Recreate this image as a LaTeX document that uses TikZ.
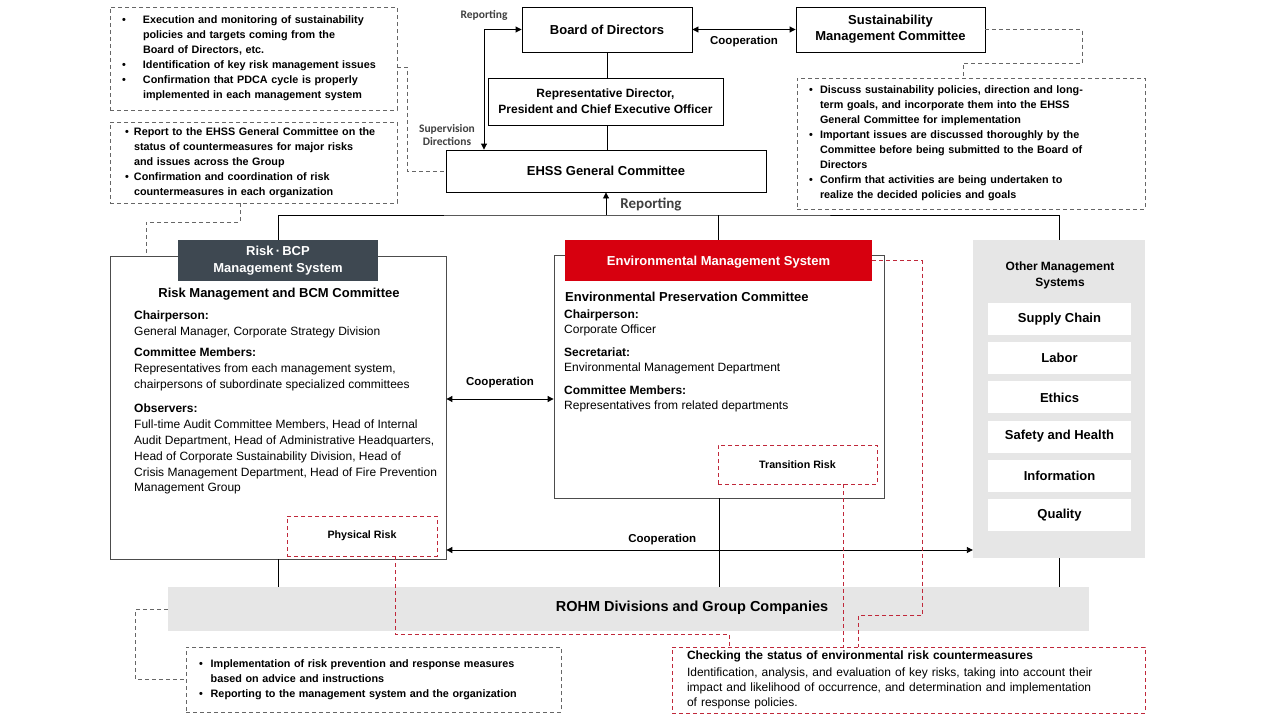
\documentclass[tikz,border=0pt]{standalone}
\usepackage{fontspec}
\setmainfont{Liberation Sans}
\newfontfamily\calfont{Carlito}
\usetikzlibrary{positioning,calc,arrows.meta}

\definecolor{rohmred}{HTML}{D7000F}
\definecolor{riskslate}{HTML}{3E4851}
\definecolor{panelgray}{HTML}{E6E6E6}
\definecolor{riskline}{HTML}{C0283A}
\definecolor{noteline}{HTML}{666666}
\definecolor{labelgray}{HTML}{404040}

\newcommand{\fsz}[2]{\fontsize{#1}{#2}\selectfont}
\newcommand{\bul}[1]{\makebox[#1][l]{\textbullet}}
\newcommand{\cont}[1]{\hspace*{#1}}

\begin{document}
\begin{tikzpicture}[x=1pt, y=-1pt,
    box/.style={draw, line width=0.9pt, fill=white, align=center, inner sep=2pt, font=\fsz{13}{16}\bfseries},
    frame/.style={draw=black!70, line width=0.8pt, fill=white, inner sep=0pt},
    head/.style={text=white, align=center, inner sep=2pt, font=\fsz{13}{17}\bfseries},
    sysbox/.style={fill=white, minimum width=143pt, minimum height=32pt, inner sep=0pt, font=\fsz{13}{16}\bfseries},
    note/.style={draw=noteline, line width=0.8pt, dash pattern=on 4pt off 3pt, align=left, inner ysep=0pt, font=\fsz{10.8}{15}\bfseries},
    redbox/.style={draw=riskline, line width=0.8pt, dash pattern=on 4pt off 3pt, inner sep=0pt},
    link/.style={line width=0.9pt},
    arr/.style={line width=0.9pt, -{Triangle[length=6pt,width=6pt]}},
    darr/.style={line width=0.9pt, {Triangle[length=6pt,width=6pt]}-{Triangle[length=6pt,width=6pt]}},
    gdash/.style={draw=noteline, line width=0.8pt, dash pattern=on 4pt off 3pt},
    rdash/.style={draw=riskline, line width=0.8pt, dash pattern=on 4pt off 3pt},
    lbl/.style={font=\fsz{11.5}{13}\bfseries, inner sep=1pt},
    callbl/.style={font=\calfont\fsz{11.5}{13}\bfseries, text=labelgray, align=center, inner sep=1pt}
]
\fill[white] (0,0) rectangle (1280,720);
\useasboundingbox (0,0) rectangle (1280,720);

% Top level
\node[box, minimum width=170pt, minimum height=45pt] (board) at (607,29.5) {Board of Directors};
\node[box, minimum width=189pt, minimum height=45pt] (smc) at (890.5,29.5) {Sustainability\\Management Committee};
\node[box, minimum width=235pt, minimum height=47pt, font=\fsz{12}{16}\bfseries] (ceo) at (605.5,101.5) {Representative Director,\\President and Chief Executive Officer};
\node[box, minimum width=320pt, minimum height=42pt] (ehss) at (606,171) {EHSS General Committee};

% Notes at the top
\node[note, minimum height=103pt, text width=263pt, inner xsep=12pt] (note1) at (253.5,58.5) {%
  \bul{21pt}Execution and monitoring of sustainability\\
  \cont{21pt}policies and targets coming from the\\
  \cont{21pt}Board of Directors, etc.\\
  \bul{21pt}Identification of key risk management issues\\
  \bul{21pt}Confirmation that PDCA cycle is properly\\
  \cont{21pt}implemented in each management system};
\node[note, minimum height=81pt, text width=257pt, inner xsep=15pt] (note2) at (253.5,162.5) {%
  \bul{9pt}Report to the EHSS General Committee on the\\
  \cont{9pt}status of countermeasures for major risks\\
  \cont{9pt}and issues across the Group\\
  \bul{9pt}Confirmation and coordination of risk\\
  \cont{9pt}countermeasures in each organization};
\node[note, minimum height=131pt, text width=324pt, inner xsep=12pt] (note3) at (971,143.5) {%
  \bul{11pt}Discuss sustainability policies, direction and long-\\
  \cont{11pt}term goals, and incorporate them into the EHSS\\
  \cont{11pt}General Committee for implementation\\
  \bul{11pt}Important issues are discussed thoroughly by the\\
  \cont{11pt}Committee before being submitted to the Board of\\
  \cont{11pt}Directors\\
  \bul{11pt}Confirm that activities are being undertaken to\\
  \cont{11pt}realize the decided policies and goals};

% Risk-BCP system
\node[frame, minimum width=336pt, minimum height=303pt] (riskbox) at (278,407.5) {};
\node[head, fill=riskslate, minimum width=200pt, minimum height=41pt] (riskhead) at (278,260.5) {Risk\,·\,BCP\\Management System};
\node[font=\fsz{13}{16}\bfseries, inner sep=0pt] (riskcom) at (279,294) {Risk Management and BCM Committee};
\node[anchor=north west, align=left, inner sep=0pt, font=\fsz{12}{15.9}] (riskbody) at (134,311) {%
  \textbf{Chairperson:}\\
  General Manager, Corporate Strategy Division\\[5pt]
  \textbf{Committee Members:}\\
  Representatives from each management system,\\
  chairpersons of subordinate specialized committees\\[8pt]
  \textbf{Observers:}\\
  Full-time Audit Committee Members, Head of Internal\\
  Audit Department, Head of Administrative Headquarters,\\
  Head of Corporate Sustainability Division, Head of\\
  Crisis Management Department, Head of Fire Prevention\\
  Management Group};
\node[redbox, minimum width=150pt, minimum height=40pt, font=\fsz{10.7}{13}\bfseries] (physrisk) at (362,536) {Physical Risk};

% Environmental system
\node[frame, minimum width=330pt, minimum height=243pt] (envbox) at (719,376.5) {};
\node[head, fill=rohmred, minimum width=307pt, minimum height=41pt, text depth=0pt] (envhead) at (718.5,260.5) {Environmental Management System};
\node[anchor=west, inner sep=0pt, font=\fsz{13}{16}\bfseries] (envcom) at (565,297) {Environmental Preservation Committee};
\node[anchor=north west, align=left, inner sep=0pt, font=\fsz{12}{15}] (envbody) at (564,310) {%
  \textbf{Chairperson:}\\
  Corporate Officer\\[8pt]
  \textbf{Secretariat:}\\
  Environmental Management Department\\[8pt]
  \textbf{Committee Members:}\\
  Representatives from related departments};
\node[redbox, minimum width=159pt, minimum height=39pt, font=\fsz{10.7}{13}\bfseries] (transrisk) at (797.5,464.5) {Transition Risk};

% Other systems
\node[fill=panelgray, minimum width=172pt, minimum height=318pt, inner sep=0pt] (other) at (1059,399) {};
\node[align=center, inner sep=0pt, font=\fsz{12}{16}\bfseries] (othertitle) at (1060,275) {Other Management\\Systems};
\node[sysbox] (supply) at (1059.5,319) {Supply Chain};
\node[sysbox, below=6.8pt of supply] (labor) {Labor};
\node[sysbox, below=6.8pt of labor] (ethics) {Ethics};
\node[sysbox, below=6.8pt of ethics] (safety) {Safety and Health};
\node[sysbox, below=6.8pt of safety] (info) {Information};
\node[sysbox, below=6.8pt of info] (quality) {Quality};

% Divisions and group companies
\node[fill=panelgray, minimum width=921pt, minimum height=44pt, inner sep=0pt] (rohm) at (628.5,609) {};
\node[font=\fsz{14.5}{16}\bfseries, inner sep=0pt] (rohmtext) at (692,608) {ROHM Divisions and Group Companies};
\node[note, minimum height=65pt, text width=349pt, inner xsep=13pt] (note4) at (373.5,679.5) {%
  \bul{11.7pt}Implementation of risk prevention and response measures\\
  \cont{11.7pt}based on advice and instructions\\
  \bul{11.7pt}Reporting to the management system and the organization};
\node[redbox, align=left, minimum height=66pt, text width=443pt, inner xsep=15pt, font=\fsz{12}{15}] (check) at (908.5,680) {%
  \textbf{Checking the status of environmental risk countermeasures}\\[1.5pt]
  Identification, analysis, and evaluation of key risks, taking into account their\\
  impact and likelihood of occurrence, and determination and implementation\\
  of response policies.};

% Top connections
\draw[darr] (board.east) -- (smc.west) node[lbl, midway, below=5pt] (coop1) {Cooperation};
\draw[link] (board.south) -- (board.south |- ceo.north);
\draw[link] (board.south |- ceo.south) -- (board.south |- ehss.north);
\coordinate (loop) at (484,29.5);
\draw[darr] (board.west) -- (loop) -- (loop |- ehss.north);
\node[callbl] (reptop) at (484,15) {Reporting};
\node[callbl] (superv) at (447,135) {Supervision\\Directions};

% Reporting from the systems
\coordinate (bus) at (606,215);
\draw[link] (riskhead.north) |- (bus) -| (other.north);
\draw[link] (envhead.north) -- (envhead.north |- bus);
\draw[arr] (bus) -- (ehss.south);
\node[callbl, font=\calfont\fsz{15}{16}\bfseries] (repbot) at (651,204) {Reporting};

% Cooperation between systems
\coordinate (coopmid) at (0,399);
\coordinate (cooplow) at (0,550);
\draw[darr] (riskbox.east |- coopmid) -- (envbox.west |- coopmid) node[lbl, midway, above=10pt] (coop2) {Cooperation};
\draw[darr] (riskbox.east |- cooplow) -- (other.west |- cooplow) node[lbl, pos=0.41, above=4pt] (coop3) {Cooperation};

% Down to divisions
\draw[link] (riskbox.south) -- (riskbox.south |- rohm.north);
\draw[link] (envbox.south) -- (envbox.south |- rohm.north);
\draw[link] (other.south) -- (other.south |- rohm.north);

% Note leaders
\draw[gdash] ([yshift=-8.5pt]note1.east) -| ([xshift=-38pt]ehss.west) -- (ehss.west);
\draw[gdash] ([xshift=-13.5pt]note2.south) -- ++(0,19) -| ([xshift=-132pt]riskbox.north);
\draw[gdash] (smc.east) -- ++(97,0) -- ++(0,33.5) -| ([xshift=-8pt]note3.north);
\draw[gdash] (rohm.west) -- ++(-32,0) |- (note4.west);

% Risk leaders
\coordinate (trdrop) at ([xshift=45.5pt]transrisk.south);
\draw[rdash] ([xshift=33pt]physrisk.south) |- ([shift={(58,-12)}]check.north west) -- ([xshift=58pt]check.north west);
\draw[rdash] (trdrop) -- (trdrop |- check.north);
\draw[rdash] (envhead.east) -- ++(50,0) |- ([shift={(187,-31)}]check.north west) -- ([xshift=187pt]check.north west);
\end{tikzpicture}
\end{document}
